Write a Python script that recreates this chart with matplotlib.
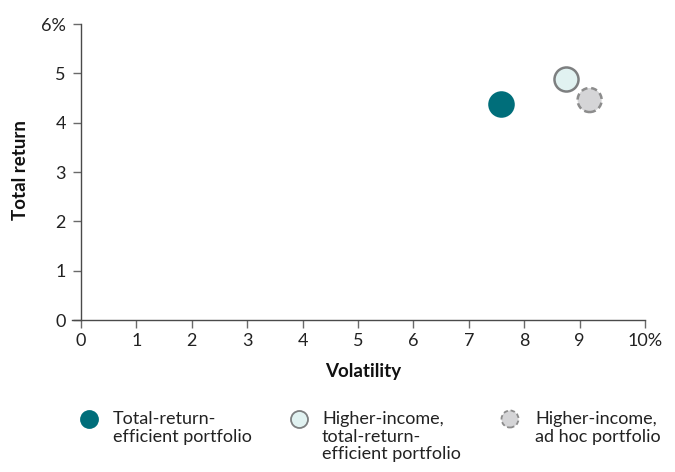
import matplotlib
matplotlib.use("Agg")
import matplotlib.pyplot as plt

plt.rcParams['font.family'] = ['Lato', 'DejaVu Sans']

# portfolios: volatility (%) and total return (%)
names = ["Total-return-\nefficient portfolio",
         "Higher-income,\ntotal-return-\nefficient portfolio",
         "Higher-income,\nad hoc portfolio"]
volatility = [7.58, 8.75, 9.18]
total_return = [4.37, 4.88, 4.46]
fills = ["#006e7a", "#e1f2f1", "#d5d5d7"]
edges = ["#006e7a", "#7d7f80", "#8c8c8c"]
styles = ["solid", "solid", (0, (2.5, 1.5))]

x_ticks = [0, 1, 2, 3, 4, 5, 6, 7, 8, 9, 10.18]
x_labels = ["0", "1", "2", "3", "4", "5", "6", "7", "8", "9", "10%"]
y_ticks = [0, 1, 2, 3, 4, 5, 6]
y_labels = ["0", "1", "2", "3", "4", "5", "6%"]

fig = plt.figure(figsize=(6.75, 4.72), dpi=100)
ax = fig.add_axes([0.1061, 0.322, 0.8495, 0.627])

for i in range(len(names)):
    ax.scatter(volatility[i], total_return[i], s=300, color=fills[i],
               edgecolors=edges[i], linewidths=1.8, linestyles=styles[i],
               zorder=3, clip_on=False)

ax.set_xlim(-0.17, 10.18)
ax.set_ylim(0, 6)
ax.spines['top'].set_visible(False)
ax.spines['right'].set_visible(False)
ax.spines['left'].set_position(('data', 0))
for s in ['left', 'bottom']:
    ax.spines[s].set_color('#4a4a4a')
    ax.spines[s].set_linewidth(1.0)

ax.set_xticks(x_ticks)
ax.set_xticklabels(x_labels)
ax.set_yticks(y_ticks)
ax.set_yticklabels(y_labels)
ax.tick_params(axis='both', direction='out', length=6, width=1.0,
               color='#6a6a6a', labelsize=13, labelcolor='#222222', pad=5)
ax.tick_params(axis='x', pad=3)

fig.text(0.031, (472 - 170) / 472, "Total return", rotation=90, fontsize=13.5,
         fontweight='bold', ha='center', va='center', color='#111111')
fig.text(363 / 675, (472 - 371) / 472, "Volatility", fontsize=13.5,
         fontweight='bold', ha='center', va='center', color='#111111')

# legend
leg_mx = [89, 299, 510]
leg_tx = [113, 322, 535]
for i in range(len(names)):
    ax.scatter([leg_mx[i] / 675], [(472 - 419) / 472], s=150, color=fills[i],
               edgecolors=edges[i], linewidths=1.3, linestyles=styles[i],
               transform=fig.transFigure, clip_on=False)
    fig.text(leg_tx[i] / 675, (472 - 411) / 472, names[i], fontsize=13,
             ha='left', va='top', color='#222222', linespacing=1.12)

fig.savefig("out.png", dpi=100)
